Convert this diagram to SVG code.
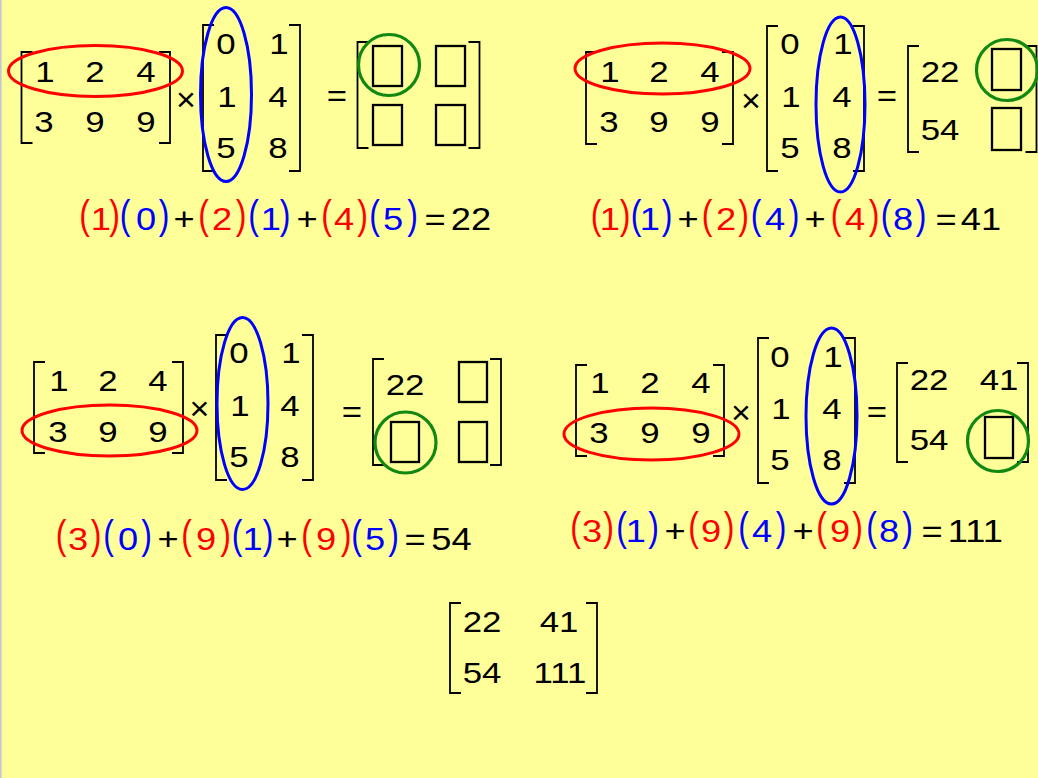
<svg xmlns="http://www.w3.org/2000/svg" width="1038" height="778" viewBox="0 0 1038 778" font-family="'Liberation Sans', Arial, Helvetica, sans-serif">
<style>
.br{fill:none;stroke:#000;stroke-width:1.8}
.n{font-family:'Liberation Sans', Arial, Helvetica, sans-serif;font-size:29px;text-anchor:middle;fill:#000}
.e{font-size:31px}
.x{font-size:34px}
.p{font-family:'Liberation Sans', Arial, Helvetica, sans-serif;font-size:40px;text-anchor:middle}
.r{fill:#ff0000}
.b{fill:#0000ff}
.re{fill:none;stroke:#ff0000;stroke-width:3}
.be{fill:none;stroke:#0000ff;stroke-width:3}
.gc{fill:none;stroke:#118811;stroke-width:3.2}
.bx{fill:none;stroke:#000;stroke-width:2.3}
</style>
<rect x="0" y="0" width="1038" height="778" fill="#ffff99"/>
<rect x="0" y="0" width="1.6" height="778" fill="#c4c4dc"/>

<g id="panel1">
<path class="br" d="M32.5 52H21.5V143H32.5M159 52H170V143H159"/>
<text class="n" transform="translate(45 82) scale(1.2 1)">1</text>
<text class="n" transform="translate(95 82) scale(1.2 1)">2</text>
<text class="n" transform="translate(146 82) scale(1.2 1)">4</text>
<text class="n" transform="translate(44 132) scale(1.2 1)">3</text>
<text class="n" transform="translate(95 132) scale(1.2 1)">9</text>
<text class="n" transform="translate(146 132) scale(1.2 1)">9</text>
<ellipse class="re" cx="95.5" cy="71" rx="87" ry="25.5"/>
<text class="n x" x="186" y="111">×</text>
<path class="br" d="M214 25H203V171H214M289 25H300V171H289"/>
<text class="n" transform="translate(226 54) scale(1.2 1)">0</text>
<text class="n" transform="translate(279 54) scale(1.2 1)">1</text>
<text class="n" transform="translate(227 107) scale(1.2 1)">1</text>
<text class="n" transform="translate(278 107) scale(1.2 1)">4</text>
<text class="n" transform="translate(226 158) scale(1.2 1)">5</text>
<text class="n" transform="translate(278 158) scale(1.2 1)">8</text>
<ellipse class="be" cx="226" cy="94.5" rx="25.5" ry="87"/>
<text class="n" transform="translate(337 106) scale(1.2 1)">=</text>
<path class="br" d="M368.5 42H357.5V148H368.5M468.5 42H479.5V148H468.5"/>
<rect class="bx" x="373" y="46" width="29" height="40"/>
<rect class="bx" x="436" y="46" width="29" height="40"/>
<rect class="bx" x="373" y="105" width="29" height="40"/>
<rect class="bx" x="436" y="105" width="29" height="40"/>
<circle class="gc" cx="389" cy="65" r="30.5"/>
</g>

<g id="equation1">
<text class="p r" transform="translate(84.5 229) scale(0.8 1)">(</text>
<text class="n e r" transform="translate(100.8 230) scale(1.17 1)">1</text>
<text class="p r" transform="translate(114.5 229) scale(0.8 1)">)</text>
<text class="p b" transform="translate(125 229) scale(0.8 1)">(</text>
<text class="n e b" transform="translate(146 230) scale(1.17 1)">0</text>
<text class="p b" transform="translate(164 229) scale(0.8 1)">)</text>
<text class="n e" transform="translate(184 230) scale(1.17 1)">+</text>
<text class="p r" transform="translate(203.5 229) scale(0.8 1)">(</text>
<text class="n e r" transform="translate(222 230) scale(1.17 1)">2</text>
<text class="p r" transform="translate(241 229) scale(0.8 1)">)</text>
<text class="p b" transform="translate(253.5 229) scale(0.8 1)">(</text>
<text class="n e b" transform="translate(270.8 230) scale(1.17 1)">1</text>
<text class="p b" transform="translate(285 229) scale(0.8 1)">)</text>
<text class="n e" transform="translate(307 230) scale(1.17 1)">+</text>
<text class="p r" transform="translate(326.5 229) scale(0.8 1)">(</text>
<text class="n e r" transform="translate(344 230) scale(1.17 1)">4</text>
<text class="p r" transform="translate(362.5 229) scale(0.8 1)">)</text>
<text class="p b" transform="translate(374.5 229) scale(0.8 1)">(</text>
<text class="n e b" transform="translate(393 230) scale(1.17 1)">5</text>
<text class="p b" transform="translate(412.5 229) scale(0.8 1)">)</text>
<text class="n e" transform="translate(435 230) scale(1.17 1)">=</text>
<text class="n e" transform="translate(471 230) scale(1.17 1)">22</text>
</g>

<g id="panel2">
<path class="br" d="M597 52H586V144H597M722 52H733V144H722"/>
<text class="n" transform="translate(610 82) scale(1.2 1)">1</text>
<text class="n" transform="translate(659 82) scale(1.2 1)">2</text>
<text class="n" transform="translate(710 82) scale(1.2 1)">4</text>
<text class="n" transform="translate(609 132) scale(1.2 1)">3</text>
<text class="n" transform="translate(659 132) scale(1.2 1)">9</text>
<text class="n" transform="translate(710 132) scale(1.2 1)">9</text>
<ellipse class="re" cx="662.5" cy="68.5" rx="87.5" ry="25.5"/>
<text class="n x" x="751" y="111.5">×</text>
<path class="br" d="M778 26H767V171H778M853 26H864V171H853"/>
<text class="n" transform="translate(790 54) scale(1.2 1)">0</text>
<text class="n" transform="translate(843 54) scale(1.2 1)">1</text>
<text class="n" transform="translate(791 107) scale(1.2 1)">1</text>
<text class="n" transform="translate(842 107) scale(1.2 1)">4</text>
<text class="n" transform="translate(790 158) scale(1.2 1)">5</text>
<text class="n" transform="translate(842 158) scale(1.2 1)">8</text>
<ellipse class="be" cx="840.5" cy="104.5" rx="24.5" ry="87.5"/>
<text class="n" transform="translate(887 106) scale(1.2 1)">=</text>
<path class="br" d="M919 46H908V152H919M1025.5 46H1036.5V152H1025.5"/>
<text class="n" transform="translate(940 82) scale(1.2 1)">22</text>
<text class="n" transform="translate(940 140) scale(1.2 1)">54</text>
<rect class="bx" x="992" y="49" width="29" height="41"/>
<rect class="bx" x="992" y="108" width="29" height="42"/>
<circle class="gc" cx="1007" cy="70" r="30.5"/>
</g>

<g id="equation2">
<text class="p r" transform="translate(596 229) scale(0.8 1)">(</text>
<text class="n e r" transform="translate(609.8 230) scale(1.17 1)">1</text>
<text class="p r" transform="translate(625 229) scale(0.8 1)">)</text>
<text class="p b" transform="translate(636 229) scale(0.8 1)">(</text>
<text class="n e b" transform="translate(649.8 230) scale(1.17 1)">1</text>
<text class="p b" transform="translate(667 229) scale(0.8 1)">)</text>
<text class="n e" transform="translate(688 230) scale(1.17 1)">+</text>
<text class="p r" transform="translate(707 229) scale(0.8 1)">(</text>
<text class="n e r" transform="translate(726 230) scale(1.17 1)">2</text>
<text class="p r" transform="translate(743.5 229) scale(0.8 1)">)</text>
<text class="p b" transform="translate(756 229) scale(0.8 1)">(</text>
<text class="n e b" transform="translate(775 230) scale(1.17 1)">4</text>
<text class="p b" transform="translate(794 229) scale(0.8 1)">)</text>
<text class="n e" transform="translate(815 230) scale(1.17 1)">+</text>
<text class="p r" transform="translate(836 229) scale(0.8 1)">(</text>
<text class="n e r" transform="translate(855 230) scale(1.17 1)">4</text>
<text class="p r" transform="translate(874 229) scale(0.8 1)">)</text>
<text class="p b" transform="translate(886 229) scale(0.8 1)">(</text>
<text class="n e b" transform="translate(903 230) scale(1.17 1)">8</text>
<text class="p b" transform="translate(921 229) scale(0.8 1)">)</text>
<text class="n e" transform="translate(946 230) scale(1.17 1)">=</text>
<text class="n e" transform="translate(981 230) scale(1.17 1)">41</text>
</g>

<g id="panel3">
<path class="br" d="M45 362H34V453H45M172 362H183V453H172"/>
<text class="n" transform="translate(59 391) scale(1.2 1)">1</text>
<text class="n" transform="translate(108 391) scale(1.2 1)">2</text>
<text class="n" transform="translate(158 391) scale(1.2 1)">4</text>
<text class="n" transform="translate(58 442) scale(1.2 1)">3</text>
<text class="n" transform="translate(108 442) scale(1.2 1)">9</text>
<text class="n" transform="translate(158 442) scale(1.2 1)">9</text>
<ellipse class="re" cx="109.5" cy="430.5" rx="87.5" ry="25.5"/>
<text class="n x" x="199.5" y="420">×</text>
<path class="br" d="M227 335H216V480H227M302 335H313V480H302"/>
<text class="n" transform="translate(239 363) scale(1.2 1)">0</text>
<text class="n" transform="translate(291 363) scale(1.2 1)">1</text>
<text class="n" transform="translate(240 416) scale(1.2 1)">1</text>
<text class="n" transform="translate(290 416) scale(1.2 1)">4</text>
<text class="n" transform="translate(239 467) scale(1.2 1)">5</text>
<text class="n" transform="translate(290 467) scale(1.2 1)">8</text>
<ellipse class="be" cx="242.5" cy="403.5" rx="25.5" ry="86"/>
<text class="n" transform="translate(352 422) scale(1.2 1)">=</text>
<path class="br" d="M384 359H373V465H384M490 359H501V465H490"/>
<text class="n" transform="translate(405 395) scale(1.2 1)">22</text>
<rect class="bx" x="459" y="362" width="28" height="40"/>
<rect class="bx" x="391" y="422" width="28" height="40"/>
<rect class="bx" x="459" y="422" width="28" height="40"/>
<circle class="gc" cx="405.5" cy="442.5" r="30.5"/>
</g>

<g id="equation3">
<text class="p r" transform="translate(61 549) scale(0.8 1)">(</text>
<text class="n e r" transform="translate(78 550) scale(1.17 1)">3</text>
<text class="p r" transform="translate(96 549) scale(0.8 1)">)</text>
<text class="p b" transform="translate(108.5 549) scale(0.8 1)">(</text>
<text class="n e b" transform="translate(128 550) scale(1.17 1)">0</text>
<text class="p b" transform="translate(146.5 549) scale(0.8 1)">)</text>
<text class="n e" transform="translate(168 550) scale(1.17 1)">+</text>
<text class="p r" transform="translate(186.5 549) scale(0.8 1)">(</text>
<text class="n e r" transform="translate(206 550) scale(1.17 1)">9</text>
<text class="p r" transform="translate(225.5 549) scale(0.8 1)">)</text>
<text class="p b" transform="translate(237 549) scale(0.8 1)">(</text>
<text class="n e b" transform="translate(252.5 550) scale(1.17 1)">1</text>
<text class="p b" transform="translate(268 549) scale(0.8 1)">)</text>
<text class="n e" transform="translate(287 550) scale(1.17 1)">+</text>
<text class="p r" transform="translate(306.5 549) scale(0.8 1)">(</text>
<text class="n e r" transform="translate(326 550) scale(1.17 1)">9</text>
<text class="p r" transform="translate(346 549) scale(0.8 1)">)</text>
<text class="p b" transform="translate(356.5 549) scale(0.8 1)">(</text>
<text class="n e b" transform="translate(375 550) scale(1.17 1)">5</text>
<text class="p b" transform="translate(393.5 549) scale(0.8 1)">)</text>
<text class="n e" transform="translate(415 550) scale(1.17 1)">=</text>
<text class="n e" transform="translate(451.5 550) scale(1.17 1)">54</text>
</g>

<g id="panel4">
<path class="br" d="M587 365H576V456H587M713 365H724V456H713"/>
<text class="n" transform="translate(600 393) scale(1.2 1)">1</text>
<text class="n" transform="translate(650 393) scale(1.2 1)">2</text>
<text class="n" transform="translate(701 393) scale(1.2 1)">4</text>
<text class="n" transform="translate(599 443) scale(1.2 1)">3</text>
<text class="n" transform="translate(650 443) scale(1.2 1)">9</text>
<text class="n" transform="translate(701 443) scale(1.2 1)">9</text>
<ellipse class="re" cx="651.5" cy="434" rx="87.5" ry="26"/>
<text class="n x" x="741" y="424">×</text>
<path class="br" d="M769 338H758V483H769M844 338H855V483H844"/>
<text class="n" transform="translate(780 367) scale(1.2 1)">0</text>
<text class="n" transform="translate(833 367) scale(1.2 1)">1</text>
<text class="n" transform="translate(781 419) scale(1.2 1)">1</text>
<text class="n" transform="translate(832 419) scale(1.2 1)">4</text>
<text class="n" transform="translate(780 470) scale(1.2 1)">5</text>
<text class="n" transform="translate(832 470) scale(1.2 1)">8</text>
<ellipse class="be" cx="831.5" cy="416" rx="25.5" ry="88"/>
<text class="n" transform="translate(877 422) scale(1.2 1)">=</text>
<path class="br" d="M908 363H897V462H908M1017 363H1028V462H1017"/>
<text class="n" transform="translate(929 390) scale(1.2 1)">22</text>
<text class="n" transform="translate(999 390) scale(1.2 1)">41</text>
<text class="n" transform="translate(929 450) scale(1.2 1)">54</text>
<rect class="bx" x="985" y="417" width="28" height="41"/>
<circle class="gc" cx="998" cy="441" r="30.5"/>
</g>

<g id="equation4">
<text class="p r" transform="translate(575.5 541) scale(0.8 1)">(</text>
<text class="n e r" transform="translate(592 542) scale(1.17 1)">3</text>
<text class="p r" transform="translate(608.5 541) scale(0.8 1)">)</text>
<text class="p b" transform="translate(621.5 541) scale(0.8 1)">(</text>
<text class="n e b" transform="translate(635.8 542) scale(1.17 1)">1</text>
<text class="p b" transform="translate(653.5 541) scale(0.8 1)">)</text>
<text class="n e" transform="translate(675 542) scale(1.17 1)">+</text>
<text class="p r" transform="translate(693.5 541) scale(0.8 1)">(</text>
<text class="n e r" transform="translate(711 542) scale(1.17 1)">9</text>
<text class="p r" transform="translate(729 541) scale(0.8 1)">)</text>
<text class="p b" transform="translate(743.5 541) scale(0.8 1)">(</text>
<text class="n e b" transform="translate(762 542) scale(1.17 1)">4</text>
<text class="p b" transform="translate(781 541) scale(0.8 1)">)</text>
<text class="n e" transform="translate(803 542) scale(1.17 1)">+</text>
<text class="p r" transform="translate(821.5 541) scale(0.8 1)">(</text>
<text class="n e r" transform="translate(840 542) scale(1.17 1)">9</text>
<text class="p r" transform="translate(857.5 541) scale(0.8 1)">)</text>
<text class="p b" transform="translate(871.5 541) scale(0.8 1)">(</text>
<text class="n e b" transform="translate(889 542) scale(1.17 1)">8</text>
<text class="p b" transform="translate(907.5 541) scale(0.8 1)">)</text>
<text class="n e" transform="translate(932 542) scale(1.17 1)">=</text>
<text class="n e" transform="translate(975.3 542) scale(1.17 1)">111</text>
</g>

<g id="result">
<path class="br" d="M461 603H450V693H461M586 603H597V693H586"/>
<text class="n" transform="translate(482 632) scale(1.2 1)">22</text>
<text class="n" transform="translate(559 632) scale(1.2 1)">41</text>
<text class="n" transform="translate(482 683) scale(1.2 1)">54</text>
<text class="n" transform="translate(560 683) scale(1.2 1)">111</text>
</g>
</svg>
